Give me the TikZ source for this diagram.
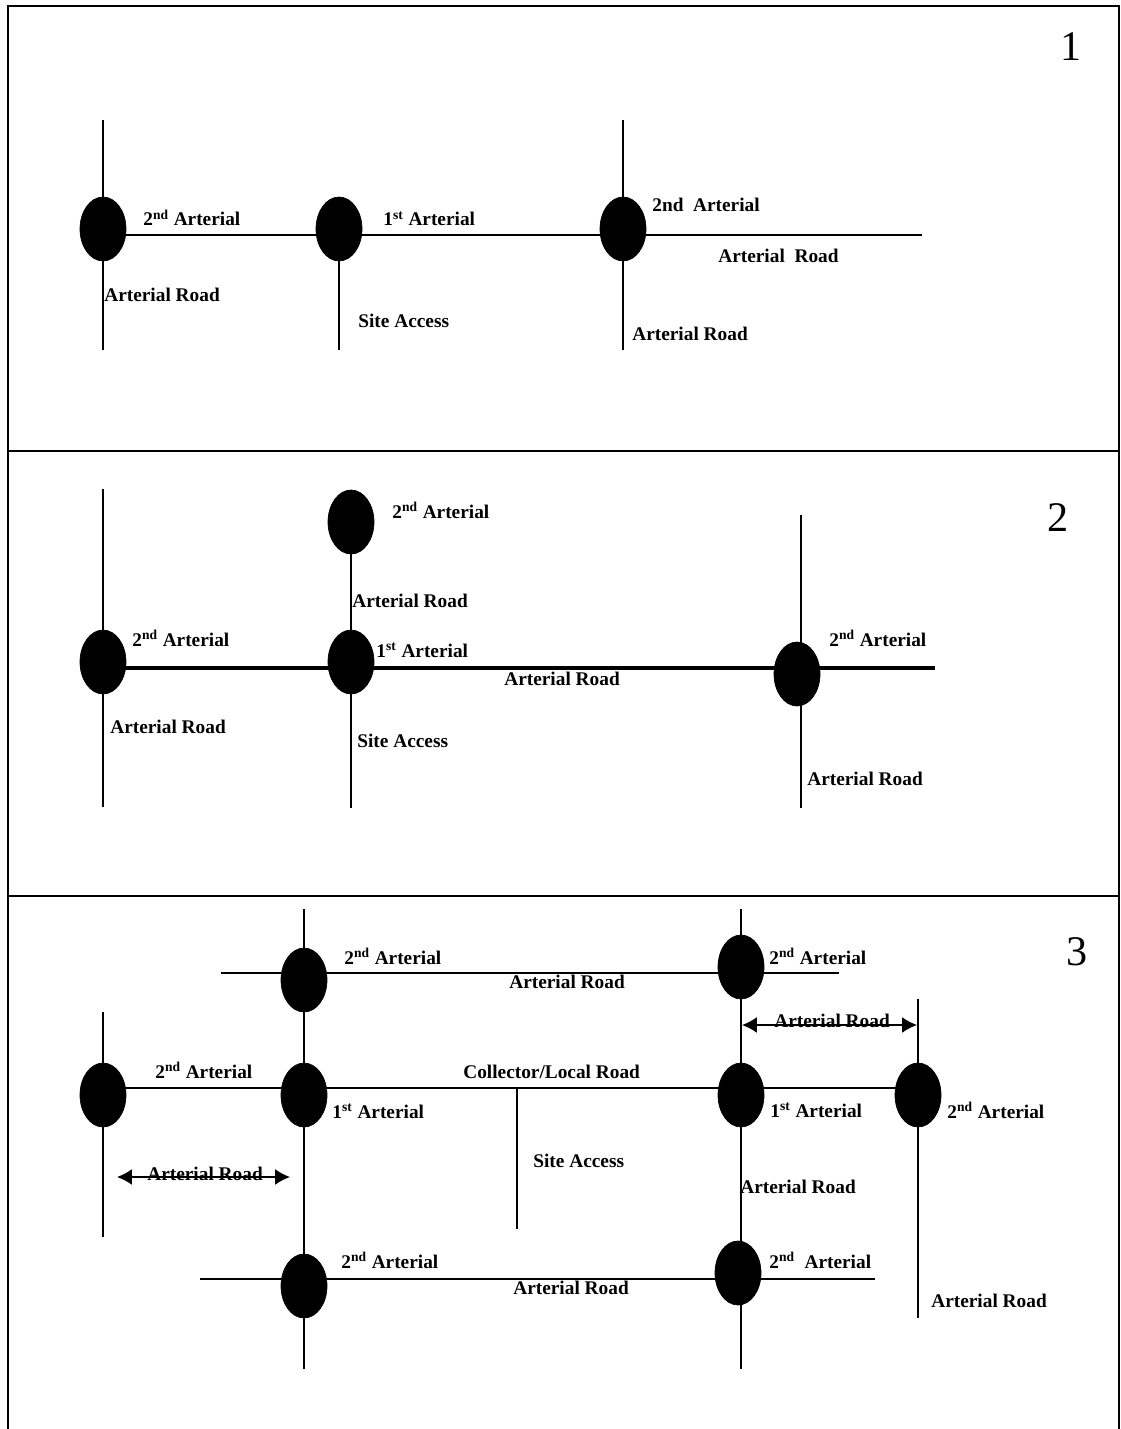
\documentclass[tikz,border=0pt]{standalone}
\usepackage{fontspec}
\setmainfont{Liberation Serif}
\usetikzlibrary{shapes.geometric,arrows.meta}
\newcommand{\ordnd}{2\textsuperscript{nd}}
\newcommand{\ordst}{1\textsuperscript{st}}
\tikzset{
	junc/.style = {ellipse, fill=black, draw=black, inner sep=0pt,
		minimum width=0.92cm, minimum height=1.28cm},
	lbl/.style = {anchor=base west, inner sep=0pt,
		font=\fontsize{11}{13}\selectfont\bfseries},
	road/.style = {line width=0.8pt},
	mainroad/.style = {line width=2.3pt},
	frame/.style = {line width=1.1pt},
	dimarrow/.style = {line width=0.8pt,
		{Latex[length=8.5pt,width=9pt]}-{Latex[length=8.5pt,width=9pt]}},
	panelno/.style = {inner sep=0pt, font=\fontsize{24}{28}\selectfont}
}
\begin{document}
\begin{tikzpicture}[x=0.02cm, y=-0.02cm]
\useasboundingbox (0,0) rectangle (1121,1429);
% frame and panels
\coordinate (fbl) at (8,1429);   \coordinate (ftl) at (8,6);
\coordinate (ftr) at (1119,6);   \coordinate (fbr) at (1119,1429);
\coordinate (d1l) at (8,451);    \coordinate (d1r) at (1119,451);
\coordinate (d2l) at (8,896);    \coordinate (d2r) at (1119,896);
\draw [frame] (fbl) -- (ftl) -- (ftr) -- (fbr);
\draw [frame] (d1l) -- (d1r);
\draw [frame] (d2l) -- (d2r);

% ---------- panel 1 ----------
\coordinate (a1n) at (103,120);  \coordinate (a1s) at (103,350);
\coordinate (a2n) at (339,235);  \coordinate (a2s) at (339,350);
\coordinate (a3n) at (623,120);  \coordinate (a3s) at (623,350);
\coordinate (ahw) at (103,235);  \coordinate (ahe) at (922,235);
\draw [road] (a1n) -- (a1s);
\draw [road] (a2n) -- (a2s);
\draw [road] (a3n) -- (a3s);
\draw [road] (ahw) -- (ahe);
\node [junc] (ja1) at (103,229) {};
\node [junc] (ja2) at (339,229) {};
\node [junc] (ja3) at (623,229) {};
\node [lbl] (la1) at (143,226) {\ordnd{} Arterial};
\node [lbl] (la2) at (383,226) {\ordst{} Arterial};
\node [lbl] (la3) at (652,212) {2nd\ \ Arterial};
\node [lbl] (la4) at (718,263) {Arterial\ \ Road};
\node [lbl] (la5) at (104,302) {Arterial Road};
\node [lbl] (la6) at (358,328) {Site Access};
\node [lbl] (la7) at (632,340) {Arterial Road};
\node [panelno] (n1) at (1071,47) {1};

% ---------- panel 2 ----------
\coordinate (b1n) at (103,489);  \coordinate (b1s) at (103,807);
\coordinate (b2s) at (351,808);
\coordinate (b3n) at (801,515);  \coordinate (b3s) at (801,808);
\coordinate (bhw) at (103,668);  \coordinate (bhe) at (935,668);
\draw [road] (b1n) -- (b1s);
\draw [road] (b3n) -- (b3s);
\node [junc] (jb2) at (351,522) {};
\draw [road] (jb2.center) -- (b2s);
\draw [mainroad] (bhw) -- (bhe);
\node [junc] (jb1) at (103,662) {};
\node [junc] (jb3) at (351,662) {};
\node [junc] (jb4) at (797,674) {};
\node [lbl] (lb1) at (392,518) {\ordnd{} Arterial};
\node [lbl] (lb2) at (352,607) {Arterial Road};
\node [lbl] (lb3) at (132,646) {\ordnd{} Arterial};
\node [lbl] (lb4) at (376,657) {\ordst{} Arterial};
\node [lbl] (lb5) at (504,685) {Arterial Road};
\node [lbl] (lb6) at (110,733) {Arterial Road};
\node [lbl] (lb7) at (357,747) {Site Access};
\node [lbl] (lb8) at (829,646) {\ordnd{} Arterial};
\node [lbl] (lb9) at (807,785) {Arterial Road};
\node [panelno] (n2) at (1058,518) {2};

% ---------- panel 3 ----------
\coordinate (c1n) at (304,909);  \coordinate (c1s) at (304,1369);
\coordinate (c2n) at (741,909);  \coordinate (c2s) at (741,1369);
\coordinate (c3n) at (103,1012); \coordinate (c3s) at (103,1237);
\coordinate (c4n) at (918,999);  \coordinate (c4s) at (918,1318);
\coordinate (c5n) at (517,1088); \coordinate (c5s) at (517,1229);
\coordinate (cuw) at (221,973);  \coordinate (cue) at (839,973);
\coordinate (cmw) at (103,1088); \coordinate (cme) at (918,1088);
\coordinate (clw) at (200,1279); \coordinate (cle) at (875,1279);
\draw [road] (c1n) -- (c1s);
\draw [road] (c2n) -- (c2s);
\draw [road] (c3n) -- (c3s);
\draw [road] (c4n) -- (c4s);
\draw [road] (c5n) -- (c5s);
\draw [road] (cuw) -- (cue);
\draw [road] (cmw) -- (cme);
\draw [road] (clw) -- (cle);
\node [junc] (jc1) at (304,980) {};
\node [junc] (jc2) at (741,967) {};
\node [junc] (jc3) at (103,1095) {};
\node [junc] (jc4) at (304,1095) {};
\node [junc] (jc5) at (741,1095) {};
\node [junc] (jc6) at (918,1095) {};
\node [junc] (jc7) at (304,1286) {};
\node [junc] (jc8) at (738,1273) {};
% spacing arrows
\coordinate (dlw) at (117,1177); \coordinate (dle) at (290,1177);
\coordinate (drw) at (742,1025); \coordinate (dre) at (917,1025);
\draw [dimarrow] (dlw) -- (dle);
\draw [dimarrow] (drw) -- (dre);
\node [lbl] (lc1) at (344,964) {\ordnd{} Arterial};
\node [lbl] (lc2) at (509,988) {Arterial Road};
\node [lbl] (lc3) at (769,964) {\ordnd{} Arterial};
\node [lbl] (lc4) at (774,1027) {Arterial Road};
\node [lbl] (lc5) at (155,1078) {\ordnd{} Arterial};
\node [lbl] (lc6) at (463,1078) {Collector/Local Road};
\node [lbl] (lc7) at (332,1118) {\ordst{} Arterial};
\node [lbl] (lc8) at (770,1117) {\ordst{} Arterial};
\node [lbl] (lc9) at (947,1118) {\ordnd{} Arterial};
\node [lbl] (lc10) at (533,1167) {Site Access};
\node [lbl] (lc11) at (147,1180) {Arterial Road};
\node [lbl] (lc12) at (740,1193) {Arterial Road};
\node [lbl] (lc13) at (341,1268) {\ordnd{} Arterial};
\node [lbl] (lc14) at (769,1268) {\ordnd{}\ \ Arterial};
\node [lbl] (lc15) at (513,1294) {Arterial Road};
\node [lbl] (lc16) at (931,1307) {Arterial Road};
\node [panelno] (n3) at (1077,952) {3};
\end{tikzpicture}
\end{document}
